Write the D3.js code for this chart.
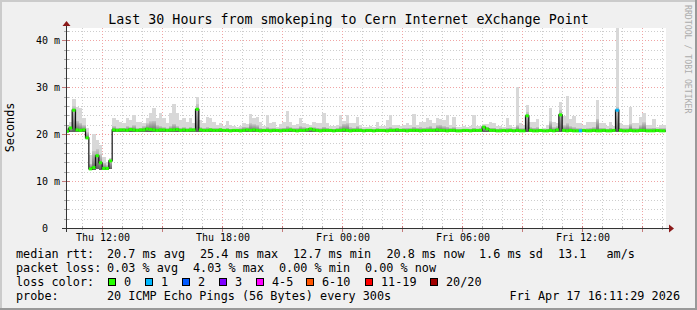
<!DOCTYPE html>
<html>
<head>
<meta charset="utf-8">
<script src="https://cdn.jsdelivr.net/npm/d3@7"></script>
<style>
  html, body { margin: 0; padding: 0; background: #fff; }
  svg { display: block; font-family: "DejaVu Sans Mono", monospace; }
  text { white-space: pre; }
</style>
</head>
<body>
<svg id="chart" width="697" height="310"></svg>
<script>
// ---- data ----
const title = "Last 30 Hours from smokeping to Cern Internet eXchange Point";
const yAxisTitle = "Seconds";
const watermark = "RRDTOOL / TOBI OETIKER";
const timeStart = new Date(2026, 3, 16, 10, 11, 29);
const timeEnd = new Date(2026, 3, 17, 16, 11, 29);
const stepStart = new Date(2026, 3, 16, 10, 10);
const stepMinutes = 10;

// median rtt (ms) per 10 minute step
const median = [
  20.7, 21.4, 25.2, 21.0, 20.9, 21.0, 19.3, 12.7, 13.0, 15.5,
  14.0, 12.8, 12.8, 14.4, 21.0, 20.9, 21.0, 21.0, 20.9, 21.1,
  21.0, 20.9, 21.0, 21.0, 21.2, 21.1, 21.0, 20.9, 21.0, 21.0,
  20.9, 21.0, 21.0, 21.1, 20.9, 21.0, 20.9, 21.0, 21.0, 25.4,
  21.0, 20.9, 20.9, 21.0, 20.9, 20.9, 21.0, 20.9, 20.9, 20.8,
  20.9, 20.9, 20.8, 20.9, 21.0, 20.9, 21.0, 20.9, 20.8, 20.9,
  20.9, 20.8, 20.9, 20.9, 20.8, 20.9, 20.9, 21.0, 20.9, 20.8,
  20.9, 20.9, 21.0, 21.2, 21.0, 20.9, 20.8, 20.9, 20.9, 20.9,
  20.8, 20.9, 20.9, 21.0, 20.9, 20.8, 20.9, 20.9, 20.9, 20.8,
  20.9, 20.9, 20.8, 20.9, 20.9, 20.9, 20.8, 20.9, 20.9, 21.0,
  20.9, 20.9, 20.8, 20.9, 20.9, 20.9, 20.8, 20.9, 20.9, 20.9,
  20.9, 21.0, 20.9, 20.9, 20.8, 20.9, 20.9, 20.8, 20.8, 20.9,
  20.9, 20.8, 20.9, 20.9, 20.9, 21.6, 21.2, 20.9, 20.9, 20.8,
  20.8, 20.9, 20.8, 20.9, 20.8, 20.9, 20.8, 20.8, 24.0, 20.9,
  20.8, 20.8, 20.9, 20.8, 20.8, 20.9, 20.8, 21.0, 24.2, 20.9,
  20.8, 20.9, 20.8, 20.8, 20.8, 20.9, 20.8, 20.8, 20.9, 20.8,
  20.8, 20.9, 20.8, 20.8, 20.9, 25.2, 20.9, 20.8, 20.8, 20.9,
  20.8, 20.8, 20.9, 20.9, 20.8, 20.8, 20.8, 20.9, 20.8, 20.8
];

// smoke: lowest ping, upper inner ping, highest ping (ms)
const smokeLo = [
  20.5, 20.6, 20.6, 20.6, 20.6, 20.6, 19.0, 12.4, 12.5, 12.6,
  12.5, 12.4, 12.4, 12.6, 20.6, 20.6, 20.6, 20.5, 20.6, 20.6,
  20.6, 20.6, 20.6, 20.6, 20.6, 20.6, 20.6, 20.5, 20.6, 20.6,
  20.6, 20.6, 20.6, 20.6, 20.5, 20.6, 20.6, 20.6, 20.6, 20.6,
  20.6, 20.6, 20.6, 20.6, 20.6, 20.6, 20.6, 20.5, 20.6, 20.5,
  20.6, 20.6, 20.5, 20.6, 20.6, 20.6, 20.6, 20.6, 20.5, 20.6,
  20.6, 20.5, 20.6, 20.6, 20.5, 20.6, 20.6, 20.6, 20.6, 20.5,
  20.6, 20.6, 20.6, 20.6, 20.6, 20.6, 20.5, 20.6, 20.6, 20.6,
  20.5, 20.6, 20.6, 20.6, 20.6, 20.5, 20.6, 20.6, 20.6, 20.5,
  20.6, 20.6, 20.5, 20.6, 20.6, 20.6, 20.5, 20.6, 20.6, 20.6,
  20.6, 20.6, 20.5, 20.6, 20.6, 20.6, 20.5, 20.6, 20.6, 20.6,
  20.6, 20.6, 20.6, 20.6, 20.5, 20.6, 20.6, 20.5, 20.5, 20.6,
  20.6, 20.5, 20.6, 20.6, 20.6, 20.6, 20.6, 20.6, 20.6, 20.5,
  20.5, 20.6, 20.5, 20.6, 20.5, 20.6, 20.5, 20.5, 20.6, 20.6,
  20.5, 20.5, 20.6, 20.5, 20.5, 20.6, 20.5, 20.6, 20.6, 20.6,
  20.5, 20.6, 20.5, 20.5, 20.5, 20.6, 20.5, 20.5, 20.6, 20.5,
  20.5, 20.6, 20.5, 20.5, 20.6, 20.6, 20.6, 20.5, 20.5, 20.6,
  20.5, 20.5, 20.6, 20.6, 20.5, 20.5, 20.5, 20.6, 20.5, 20.5
];
const smokeMid = [
  21.5, 21.8, 26.0, 23.0, 22.5, 22.0, 20.5, 13.8, 16.5, 17.0,
  15.8, 14.0, 13.5, 14.6, 21.8, 21.5, 21.4, 21.5, 21.8, 21.6,
  22.0, 21.4, 21.5, 21.8, 22.4, 22.8, 23.0, 22.0, 21.8, 21.6,
  21.4, 21.8, 22.3, 21.8, 21.5, 21.6, 21.4, 21.6, 21.4, 26.5,
  21.6, 21.4, 21.6, 21.5, 21.4, 21.4, 21.5, 21.3, 21.5, 21.3,
  21.3, 21.3, 21.4, 21.7, 21.6, 22.4, 22.2, 22.0, 21.5, 21.3,
  21.6, 21.4, 21.4, 21.3, 21.4, 21.5, 21.8, 21.6, 21.4, 21.5,
  21.8, 21.6, 21.5, 21.4, 21.6, 21.5, 21.4, 21.7, 21.5, 21.3,
  21.3, 21.4, 21.8, 22.3, 22.4, 21.6, 21.5, 21.8, 21.4, 21.3,
  21.2, 21.3, 21.2, 21.4, 21.3, 21.3, 21.5, 21.6, 21.4, 21.4,
  21.3, 21.4, 21.5, 21.4, 21.7, 21.5, 21.6, 21.5, 21.6, 21.8,
  21.5, 22.0, 22.1, 21.8, 21.7, 21.4, 21.6, 21.2, 21.2, 21.3,
  21.3, 21.3, 21.5, 21.3, 21.4, 21.9, 21.7, 21.5, 21.5, 21.3,
  21.4, 21.3, 21.5, 21.4, 21.3, 22.0, 21.4, 21.4, 24.8, 21.6,
  21.5, 21.6, 21.1, 21.1, 21.3, 22.8, 21.6, 21.8, 25.3, 22.0,
  22.4, 21.8, 21.6, 21.4, 21.4, 21.3, 21.4, 21.5, 21.6, 23.4,
  21.5, 21.4, 21.3, 21.5, 21.3, 25.9, 21.5, 21.4, 21.4, 22.2,
  21.5, 21.4, 22.0, 22.6, 21.4, 21.4, 21.5, 21.3, 21.4, 21.4
];
const smokeHi = [
  22.0, 22.7, 27.5, 25.9, 25.6, 23.5, 21.5, 15.6, 20.1, 18.8,
  17.8, 15.3, 14.2, 15.0, 23.5, 23.2, 22.7, 22.4, 23.5, 23.1,
  24.2, 22.7, 22.7, 22.4, 23.5, 24.5, 25.6, 23.5, 24.5, 23.5,
  22.4, 24.5, 26.6, 24.5, 23.1, 23.5, 22.7, 23.5, 22.4, 28.1,
  23.1, 22.4, 23.8, 23.5, 22.7, 22.0, 22.4, 21.9, 23.0, 22.0,
  21.8, 21.7, 21.9, 22.4, 22.3, 24.4, 23.5, 23.8, 22.6, 21.8,
  24.2, 22.5, 22.7, 21.7, 22.3, 22.7, 25.0, 22.7, 22.0, 22.2,
  23.5, 22.4, 22.2, 22.0, 22.7, 22.5, 22.4, 24.7, 22.4, 21.8,
  21.9, 22.0, 24.2, 23.0, 24.2, 22.4, 22.4, 23.7, 22.0, 21.7,
  21.7, 21.8, 21.6, 22.6, 21.8, 21.8, 23.2, 24.2, 22.0, 22.0,
  21.8, 22.0, 22.4, 22.0, 24.4, 22.0, 22.7, 22.6, 23.5, 23.1,
  22.4, 23.5, 23.4, 23.1, 24.2, 22.0, 23.7, 21.6, 21.6, 21.8,
  21.7, 21.8, 24.2, 21.9, 21.8, 22.3, 22.2, 22.6, 22.5, 21.8,
  21.8, 21.6, 23.5, 22.0, 21.7, 30.2, 22.4, 22.0, 26.3, 22.7,
  22.7, 23.4, 21.3, 21.4, 22.0, 25.6, 22.7, 22.4, 26.9, 24.0,
  28.3, 23.4, 24.0, 22.4, 22.4, 22.0, 22.7, 22.7, 22.7, 27.4,
  22.4, 22.4, 21.8, 22.7, 21.9, 42.8, 22.4, 22.0, 22.0, 25.9,
  22.4, 22.4, 23.7, 24.5, 22.0, 22.0, 23.3, 21.7, 22.1, 22.1
];

// steps with lost pings (step index, pings lost out of 20)
const lossSteps = [154, 165];
const lossCounts = [1, 1];

const lossLabels = ["0", "1", "2", "3", "4-5", "6-10", "11-19", "20/20"];
const lossUpper = [0, 1, 2, 3, 5, 10, 19, 20];
const lossColors = ["#26ff00", "#00b8ff", "#0059ff", "#7e00ff", "#ff00ff", "#ff5500", "#ff0000", "#a10000"];

const yTicks = [0, 10, 20, 30, 40];
const yTickLabels = ["0", "10 m", "20 m", "30 m", "40 m"];

const rttLegend = ["median rtt:", "20.7 ms avg", "25.4 ms max", "12.7 ms min", "20.8 ms now", "1.6 ms sd", "13.1", "am/s"];
const lossLegend = ["packet loss:", "0.03 % avg", "4.03 % max", "0.00 % min", "0.00 % now"];
const probeLegend = ["probe:", "20 ICMP Echo Pings (56 Bytes) every 300s"];
const lossColorTitle = "loss color:";
const stamp = "Fri Apr 17 16:11:29 2026";

// ---- drawing ----
const W = 697, H = 310;
const svg = d3.select("#chart");

const x = d3.scaleTime().domain([timeStart, timeEnd]).range([66, 666]);
const y = d3.scaleLinear().domain([0, 42.6]).range([228.5, 28.5]);
const snap = (v) => Math.round(v - 0.5) + 0.5;

const gridMinor = "#cdcdcd";
const gridMajor = "#f0a4a4";
const axisCol = "#333";
const arrowCol = "#8b1a1a";

// background + 3d border
svg.append("rect").attr("width", W).attr("height", H).attr("fill", "#f0f0f0");
svg.append("rect").attr("width", W).attr("height", 2).attr("fill", "#cbcbcb");
svg.append("rect").attr("width", 2).attr("height", H).attr("fill", "#cbcbcb");
svg.append("rect").attr("y", H - 2).attr("width", W).attr("height", 2).attr("fill", "#999");
svg.append("rect").attr("x", W - 2).attr("width", 2).attr("height", H).attr("fill", "#999");

// canvas
svg.append("rect").attr("x", 66).attr("y", 28).attr("width", 600).attr("height", 201).attr("fill", "#fff");

const defs = svg.append("defs");
defs.append("clipPath").attr("id", "plotClip")
  .append("rect").attr("x", 66).attr("y", 28).attr("width", 600).attr("height", 200);
const grad = defs.append("linearGradient").attr("id", "smokeGrad")
  .attr("x1", 0).attr("y1", 1).attr("x2", 0).attr("y2", 0);
grad.append("stop").attr("offset", 0).attr("stop-color", "#5e5e5e");
grad.append("stop").attr("offset", 1).attr("stop-color", "#c8c8c8");

// grid
const grid = svg.append("g").attr("stroke-dasharray", "1,2").attr("stroke-width", 1).attr("fill", "none");
const hours = d3.timeHour.range(d3.timeHour.ceil(timeStart), timeEnd);
grid.selectAll("line.vmin").data(hours.filter((h) => h.getHours() % 3 !== 0)).join("line")
  .attr("x1", (d) => snap(x(d))).attr("x2", (d) => snap(x(d)))
  .attr("y1", 28).attr("y2", 228).attr("stroke", gridMinor);
const yMinor = d3.range(2, 43, 2).filter((v) => v % 10 !== 0);
grid.selectAll("line.hmin").data(yMinor).join("line")
  .attr("x1", 66).attr("x2", 666)
  .attr("y1", (d) => snap(y(d))).attr("y2", (d) => snap(y(d))).attr("stroke", gridMinor);
grid.selectAll("line.vmaj").data(hours.filter((h) => h.getHours() % 3 === 0)).join("line")
  .attr("class", "vmaj")
  .attr("x1", (d) => snap(x(d))).attr("x2", (d) => snap(x(d)))
  .attr("y1", 28).attr("y2", 228).attr("stroke", gridMajor);
grid.selectAll("line.hmaj").data(yTicks.slice(1)).join("line")
  .attr("class", "hmaj")
  .attr("x1", 66).attr("x2", 666)
  .attr("y1", (d) => snap(y(d))).attr("y2", (d) => snap(y(d))).attr("stroke", gridMajor);

// data
const steps = median.map((m, i) => ({
  i,
  t0: d3.timeMinute.offset(stepStart, i * stepMinutes),
  t1: d3.timeMinute.offset(stepStart, (i + 1) * stepMinutes),
  med: m,
  lo: smokeLo[i],
  mid: smokeMid[i],
  hi: smokeHi[i],
  lost: lossSteps.includes(i) ? lossCounts[lossSteps.indexOf(i)] : 0
}));

const plot = svg.append("g").attr("clip-path", "url(#plotClip)");

plot.append("g").attr("shape-rendering", "crispEdges")
  .selectAll("rect").data(steps).join("rect")
  .attr("x", (d) => x(d.t0)).attr("width", (d) => x(d.t1) - x(d.t0))
  .attr("y", (d) => y(d.hi)).attr("height", (d) => y(d.lo) - y(d.hi))
  .attr("fill", "#d8d8d8");

plot.append("g").attr("shape-rendering", "crispEdges")
  .selectAll("rect").data(steps).join("rect")
  .attr("x", (d) => x(d.t0)).attr("width", (d) => x(d.t1) - x(d.t0))
  .attr("y", (d) => y(d.mid)).attr("height", (d) => y(d.lo) - y(d.mid))
  .attr("fill", "url(#smokeGrad)");

const linePts = steps.map((d) => [d.t0, d.med]);
linePts.push([steps[steps.length - 1].t1, steps[steps.length - 1].med]);
plot.append("path")
  .attr("d", d3.line().x((p) => x(p[0])).y((p) => y(p[1])).curve(d3.curveStepAfter)(linePts))
  .attr("fill", "none").attr("stroke", "#111").attr("stroke-width", 1.2);

plot.append("g")
  .selectAll("rect").data(steps).join("rect")
  .attr("x", (d) => x(d.t0)).attr("width", (d) => x(d.t1) - x(d.t0))
  .attr("y", (d) => y(d.med) - 1.5).attr("height", 3)
  .attr("fill", (d) => lossColors[d3.bisectLeft(lossUpper, d.lost)]);

// axes
const axes = svg.append("g").attr("shape-rendering", "crispEdges");
axes.selectAll("line.yt").data(yMinor).join("line")
  .attr("x1", 64).attr("x2", 69).attr("y1", (d) => snap(y(d))).attr("y2", (d) => snap(y(d)))
  .attr("stroke", "#aaa");
axes.selectAll("line.ytM").data(yTicks).join("line")
  .attr("class", "ytM")
  .attr("x1", 62).attr("x2", 70).attr("y1", (d) => snap(y(d))).attr("y2", (d) => snap(y(d)))
  .attr("stroke", "#c47a7a");
axes.selectAll("line.xt").data(hours).join("line")
  .attr("class", "xt")
  .attr("x1", (d) => snap(x(d))).attr("x2", (d) => snap(x(d)))
  .attr("y1", 226).attr("y2", (d) => (d.getHours() % 3 === 0 ? 232 : 230))
  .attr("stroke", (d) => (d.getHours() % 3 === 0 ? "#c47a7a" : "#aaa"));

axes.append("line").attr("x1", 62).attr("x2", 670).attr("y1", 228.5).attr("y2", 228.5).attr("stroke", axisCol);
axes.append("line").attr("x1", 66.5).attr("x2", 66.5).attr("y1", 232).attr("y2", 25).attr("stroke", axisCol);
svg.append("path").attr("d", "M62.5,26 L70.5,26 L66.5,21 Z").attr("fill", arrowCol);
svg.append("path").attr("d", "M669,224.5 L669,232.5 L674,228.5 Z").attr("fill", arrowCol);

// axis labels
svg.append("g").selectAll("text").data(yTicks).join("text")
  .attr("x", (d) => (d === 0 ? 48 : 60)).attr("y", (d) => y(d) + 3.6)
  .attr("text-anchor", "end").attr("font-size", 10).attr("fill", "#000")
  .text((d, i) => yTickLabels[i]);

const fmt = d3.timeFormat("%a %H:%M");
svg.append("g").selectAll("text").data(hours.filter((h) => h.getHours() % 6 === 0)).join("text")
  .attr("x", (d) => snap(x(d)) + 0.5).attr("y", 240.5)
  .attr("text-anchor", "middle").attr("font-size", 10).attr("fill", "#000")
  .text((d) => fmt(d));

svg.append("text").attr("x", W / 2).attr("y", 24).attr("text-anchor", "middle")
  .attr("font-size", 13.3).attr("fill", "#000").text(title);

svg.append("text").attr("transform", "translate(14,127.5) rotate(-90)")
  .attr("text-anchor", "middle").attr("font-size", 11.8).attr("fill", "#000").text(yAxisTitle);

svg.append("text").attr("transform", "translate(685,5) rotate(90)")
  .attr("font-size", 8.2).attr("fill", "#acacac").text(watermark);

// legend
const legend = svg.append("g").attr("font-size", 11.8).attr("fill", "#000");
const rttX = [16, 107, 200, 293, 386.5, 479, 558, 606.5];
legend.selectAll("text.rtt").data(rttLegend).join("text").attr("class", "rtt")
  .attr("x", (d, i) => rttX[i]).attr("y", 258).text((d) => d);
const lossX = [16, 107, 193, 279, 365];
legend.selectAll("text.loss").data(lossLegend).join("text").attr("class", "loss")
  .attr("x", (d, i) => lossX[i]).attr("y", 272).text((d) => d);
legend.append("text").attr("x", 16).attr("y", 286).text(lossColorTitle);
const boxX = [108.5, 145.5, 182.5, 219.5, 256.5, 306.5, 365.5, 430.5];
legend.selectAll("rect.box").data(lossLabels).join("rect").attr("class", "box")
  .attr("x", (d, i) => boxX[i]).attr("y", 278.5).attr("width", 7).attr("height", 7)
  .attr("fill", (d, i) => lossColors[i]).attr("stroke", "#000").attr("stroke-width", 1);
legend.selectAll("text.ll").data(lossLabels).join("text").attr("class", "ll")
  .attr("x", (d, i) => boxX[i] + 15.5).attr("y", 286).text((d) => d);
legend.selectAll("text.pr").data(probeLegend).join("text").attr("class", "pr")
  .attr("x", (d, i) => (i === 0 ? 16 : 107)).attr("y", 300).text((d) => d);
legend.append("text").attr("x", 680).attr("y", 300).attr("text-anchor", "end").text(stamp);
</script>
</body>
</html>
